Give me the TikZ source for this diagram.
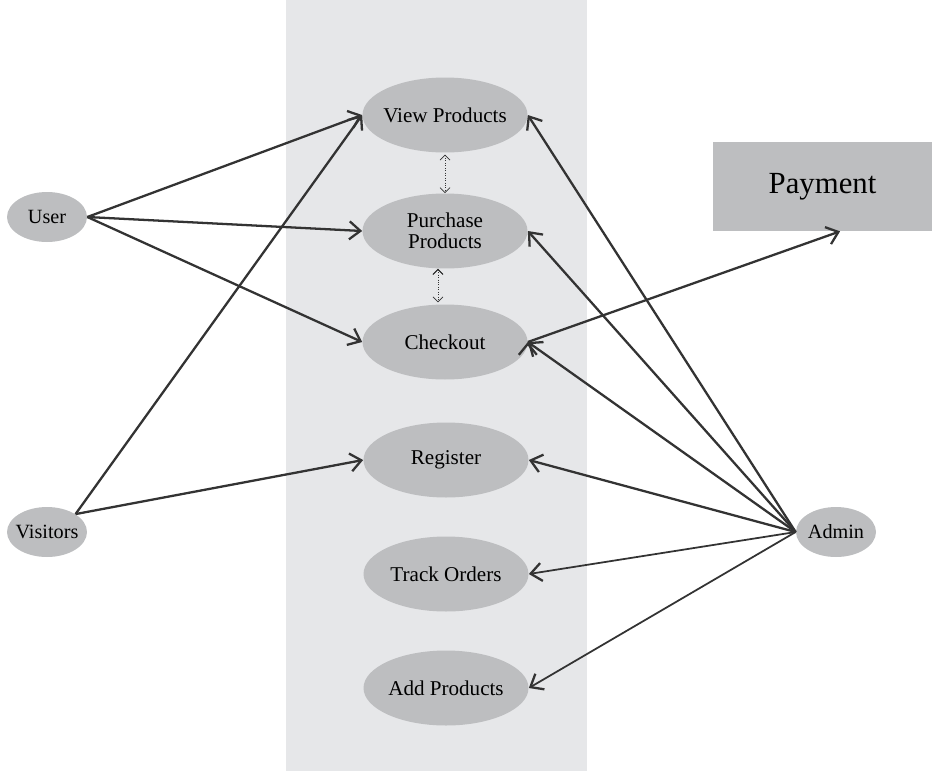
\documentclass[tikz,border=0pt]{standalone}
\usepackage{fontspec}
\setmainfont{Liberation Serif}
\usepackage{tikz}
\usetikzlibrary{positioning, arrows.meta, shapes.geometric, backgrounds}

\definecolor{panelgray}{HTML}{E6E7E9}
\definecolor{ovalgray}{HTML}{BDBEC0}
\definecolor{linegray}{HTML}{333333}

\begin{document}
\begin{tikzpicture} [x = 0.02cm, y = -0.02cm,
			usecase/.style = {ellipse, fill = ovalgray, inner ysep = 0pt,
				inner xsep = -3pt,
				minimum width = 3.3cm, minimum height = 1.5cm,
				align = center,
				font = \fontsize{12}{12}\selectfont
			},
			actor/.style = {ellipse, fill = ovalgray, inner ysep = 0pt,
				inner xsep = -5pt,
				minimum width = 1.6cm, minimum height = 1cm,
				font = \fontsize{11.5}{12}\selectfont
			},
			system/.style = {rectangle, fill = ovalgray,
				minimum width = 4.38cm, minimum height = 1.78cm,
				font = \fontsize{17.5}{19}\selectfont
			},
			link/.style = {draw = linegray, line width = 1.3pt,
				-{Straight Barb[length = 2.2mm, width = 3.6mm, line width = 1.3pt]}
			},
			incl/.style = {draw = linegray, densely dotted, line width = 0.4pt,
				{Straight Barb[length = 1mm, width = 2mm]}-{Straight Barb[length = 1mm, width = 2mm]}
			}
			]
			\useasboundingbox (0,0) rectangle (932,771);
			% System boundary
			\fill [panelgray] (286,0) rectangle (587,771);
			% Use cases
			\node (view) [usecase] at (445,115) {View Products};
			\node (purch) [usecase] at (445,231) {Purchase\\Products};
			\node (check) [usecase] at (445,342) {Checkout};
			\node (reg) [usecase] at (446,460) {Register};
			\node (track) [usecase] at (446,574) {Track Orders};
			\node (add) [usecase] at (446,688) {Add Products};
			% Actors
			\node (user) [actor] at (47,217) {User};
			\node (visit) [actor] at (47,532) {Visitors};
			\node (admin) [actor] at (836,532) {Admin};
			\node (pay) [system] at (822.5,186.5) {Payment};
			%Transitions
			\path [link]
			
			(user.east) edge (view.west)
			(user.east) edge (purch.west)
			(user.east) edge (check.west)
			
			(visit.north east) edge (view.west)
			(visit.north east) edge (reg.west)
			
			(admin.west) edge (view.east)
			(admin.west) edge (purch.east)
			(admin.west) edge (check.east)
			(admin.west) edge (reg.east)
			(admin.west) edge [line width = 1pt] (track.east)
			(admin.west) edge [line width = 1pt] (add.east)
			
			(check.east) edge ([xshift = 10pt]pay.south);
			
			\path [incl]
			(view.south) edge [shorten <= 1pt] (purch.north)
			([xshift = -4pt]purch.south) edge [shorten >= 1pt] ([xshift = -4pt]check.north);
		\end{tikzpicture}
\end{document}
